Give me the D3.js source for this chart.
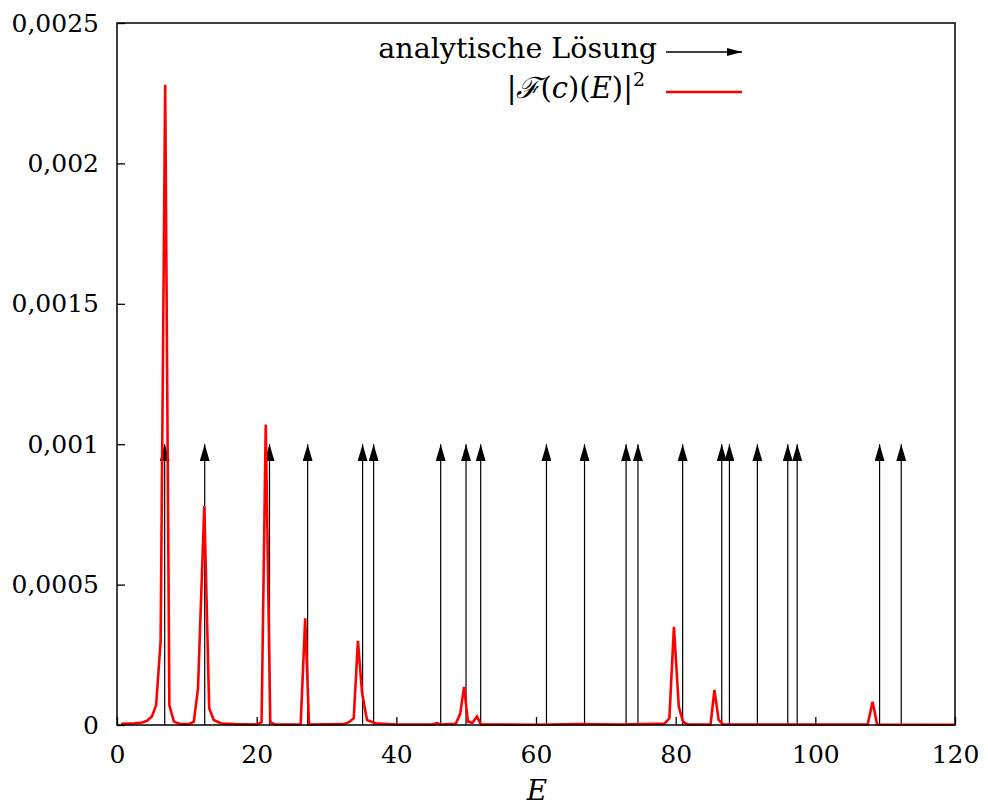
<!DOCTYPE html>
<html>
<head>
<meta charset="utf-8">
<script src="https://cdn.jsdelivr.net/npm/d3@7"></script>
<style>
  body { margin: 0; background: #fff; }
  text { font-family: "DejaVu Serif", serif; }
</style>
</head>
<body>
<svg width="988" height="809"></svg>
<script>
// analytic eigenvalues (arrows drawn up to 0.001)
const arrowE = [6.83, 12.56, 21.84, 27.3, 35.17, 36.75, 46.35, 49.98, 52.08, 61.5,
  66.95, 72.9, 74.6, 81.0, 86.6, 87.7, 91.7, 96.05, 97.4, 109.2, 112.3]
const arrowHeight = 0.001

// |F(c)(E)|^2
const specE = [0.6, 2.5, 3.6, 4.3, 5.0, 5.6, 6.25, 6.9, 7.5, 8.15, 9.1, 10.3, 11.0, 11.6, 12.5,
  13.2, 13.85, 15.0, 17.0, 20.0, 20.7, 21.3, 21.95, 22.6, 26.3, 26.95, 27.5, 32.5, 33.2, 33.9,
  34.5, 35.1, 35.8, 37.0, 40.0, 45.2, 45.8, 46.4, 48.5, 49.15, 49.7, 50.25, 50.9, 51.55,
  52.1, 60.0, 66.0, 72.0, 78.4, 79.1, 79.75, 80.45, 81.05, 81.7, 85.0, 85.55, 86.15, 86.8,
  107.5, 108.2, 108.85, 120.0]
const specV = [0.000004, 0.000006, 0.000009, 0.000015, 0.00003, 0.00007, 0.0003, 0.00228,
  0.00007, 0.000012, 0.000003, 0.000003, 0.000012, 0.00013, 0.00078,
  0.00006, 0.000018, 0.000005, 0.000003, 0.000002, 0.00001, 0.00107, 0.00001, 0.000002,
  0.000002, 0.00038, 0.000002, 0.000003, 0.00001, 0.000024,
  0.0003, 0.000113, 0.000018, 0.000006, 0.000002, 0.000002, 0.000007, 0.000002, 0.000004,
  0.00004, 0.000136, 0.000012, 0.000008, 0.00003,
  0.000002, 0.000001, 0.000003, 0.000002, 0.000005, 0.000024, 0.00035, 0.000065, 0.000012,
  0.000002, 0.000002, 0.000125, 0.000018, 0.000002,
  0.000002, 0.000083, 0.000002, 0.000001]

const xTicks = [0, 20, 40, 60, 80, 100, 120]
const yTicks = [0, 0.0005, 0.001, 0.0015, 0.002, 0.0025]

const margin = { top: 23, right: 33, bottom: 84, left: 117 }
const width = 988 - margin.left - margin.right
const height = 809 - margin.top - margin.bottom

const x = d3.scaleLinear().domain([0, 120]).range([0, width])
const y = d3.scaleLinear().domain([0, 0.0025]).range([height, 0])

const svg = d3.select('svg')
const g = svg.append('g')
    .attr('transform', `translate(${margin.left},${margin.top})`)

const defs = svg.append('defs')
defs.append('marker')
    .attr('id', 'head')
    .attr('markerUnits', 'userSpaceOnUse')
    .attr('viewBox', '0 0 17 10')
    .attr('refX', 17).attr('refY', 5)
    .attr('markerWidth', 17).attr('markerHeight', 10)
    .attr('orient', 'auto')
  .append('path')
    .attr('d', 'M0,0 L17,5 L0,10 Z')
    .attr('fill', '#000')
defs.append('marker')
    .attr('id', 'headSmall')
    .attr('markerUnits', 'userSpaceOnUse')
    .attr('viewBox', '0 0 15 8')
    .attr('refX', 15).attr('refY', 4)
    .attr('markerWidth', 15).attr('markerHeight', 8)
    .attr('orient', 'auto')
  .append('path')
    .attr('d', 'M0,0 L15,4 L0,8 Z')
    .attr('fill', '#000')

const fmt = d => d === 0 ? '0' : String(+d.toFixed(4)).replace('.', ',')

g.append('g')
    .attr('transform', `translate(0,${height})`)
    .call(d3.axisBottom(x).tickValues(xTicks).tickSizeInner(-8).tickSizeOuter(0).tickPadding(20))
    .call(a => a.select('.domain').remove())
    .call(a => a.selectAll('line').attr('stroke-width', 1.3))
    .call(a => a.selectAll('text').attr('font-size', 25).attr('font-family', '"DejaVu Serif", serif').attr('fill', '#000'))

g.append('g')
    .call(d3.axisLeft(y).tickValues(yTicks).tickFormat(fmt).tickSizeInner(-8).tickSizeOuter(0).tickPadding(18))
    .call(a => a.select('.domain').remove())
    .call(a => a.selectAll('line').attr('stroke-width', 1.3))
    .call(a => a.selectAll('text').attr('font-size', 25).attr('font-family', '"DejaVu Serif", serif').attr('fill', '#000'))

// arrows
g.append('g').selectAll('line')
    .data(arrowE)
  .enter().append('line')
    .attr('x1', d => x(d)).attr('x2', d => x(d))
    .attr('y1', y(0)).attr('y2', y(arrowHeight))
    .attr('stroke', '#000')
    .attr('stroke-width', 1.2)
    .attr('marker-end', 'url(#head)')

// spectrum
const spec = specE.map((e, i) => [e, specV[i]])
g.append('path')
    .datum(spec)
    .attr('fill', 'none')
    .attr('stroke', '#ff0000')
    .attr('stroke-width', 2.6)
    .attr('stroke-linejoin', 'miter')
    .attr('d', d3.line().x(d => x(d[0])).y(d => y(d[1])))

// frame
g.append('rect')
    .attr('width', width).attr('height', height)
    .attr('fill', 'none')
    .attr('stroke', '#000')
    .attr('stroke-width', 1.5)

// legend
const leg = svg.append('g')
leg.append('text')
    .attr('x', 657).attr('y', 58)
    .attr('text-anchor', 'end')
    .attr('font-size', 28.5)
    .text('analytische Lösung')
leg.append('line')
    .attr('x1', 666).attr('x2', 742)
    .attr('y1', 52).attr('y2', 52)
    .attr('stroke', '#000').attr('stroke-width', 1.3)
    .attr('marker-end', 'url(#headSmall)')

const t2 = leg.append('text')
    .attr('x', 645).attr('y', 98)
    .attr('text-anchor', 'end')
    .attr('font-size', 29)
t2.append('tspan').text('|')
t2.append('tspan').attr('font-style', 'italic').text('ℱ')
t2.append('tspan').text('(')
t2.append('tspan').attr('font-style', 'italic').text('c')
t2.append('tspan').text(')(')
t2.append('tspan').attr('font-style', 'italic').text('E')
t2.append('tspan').text(')|')
t2.append('tspan').attr('font-size', 19).attr('dy', -12).text('2')
leg.append('line')
    .attr('x1', 666).attr('x2', 742)
    .attr('y1', 92).attr('y2', 92)
    .attr('stroke', '#ff0000').attr('stroke-width', 2.6)

// x label
svg.append('text')
    .attr('x', 537).attr('y', 800)
    .attr('text-anchor', 'middle')
    .attr('font-size', 28)
    .attr('font-style', 'italic')
    .text('E')
</script>
</body>
</html>
